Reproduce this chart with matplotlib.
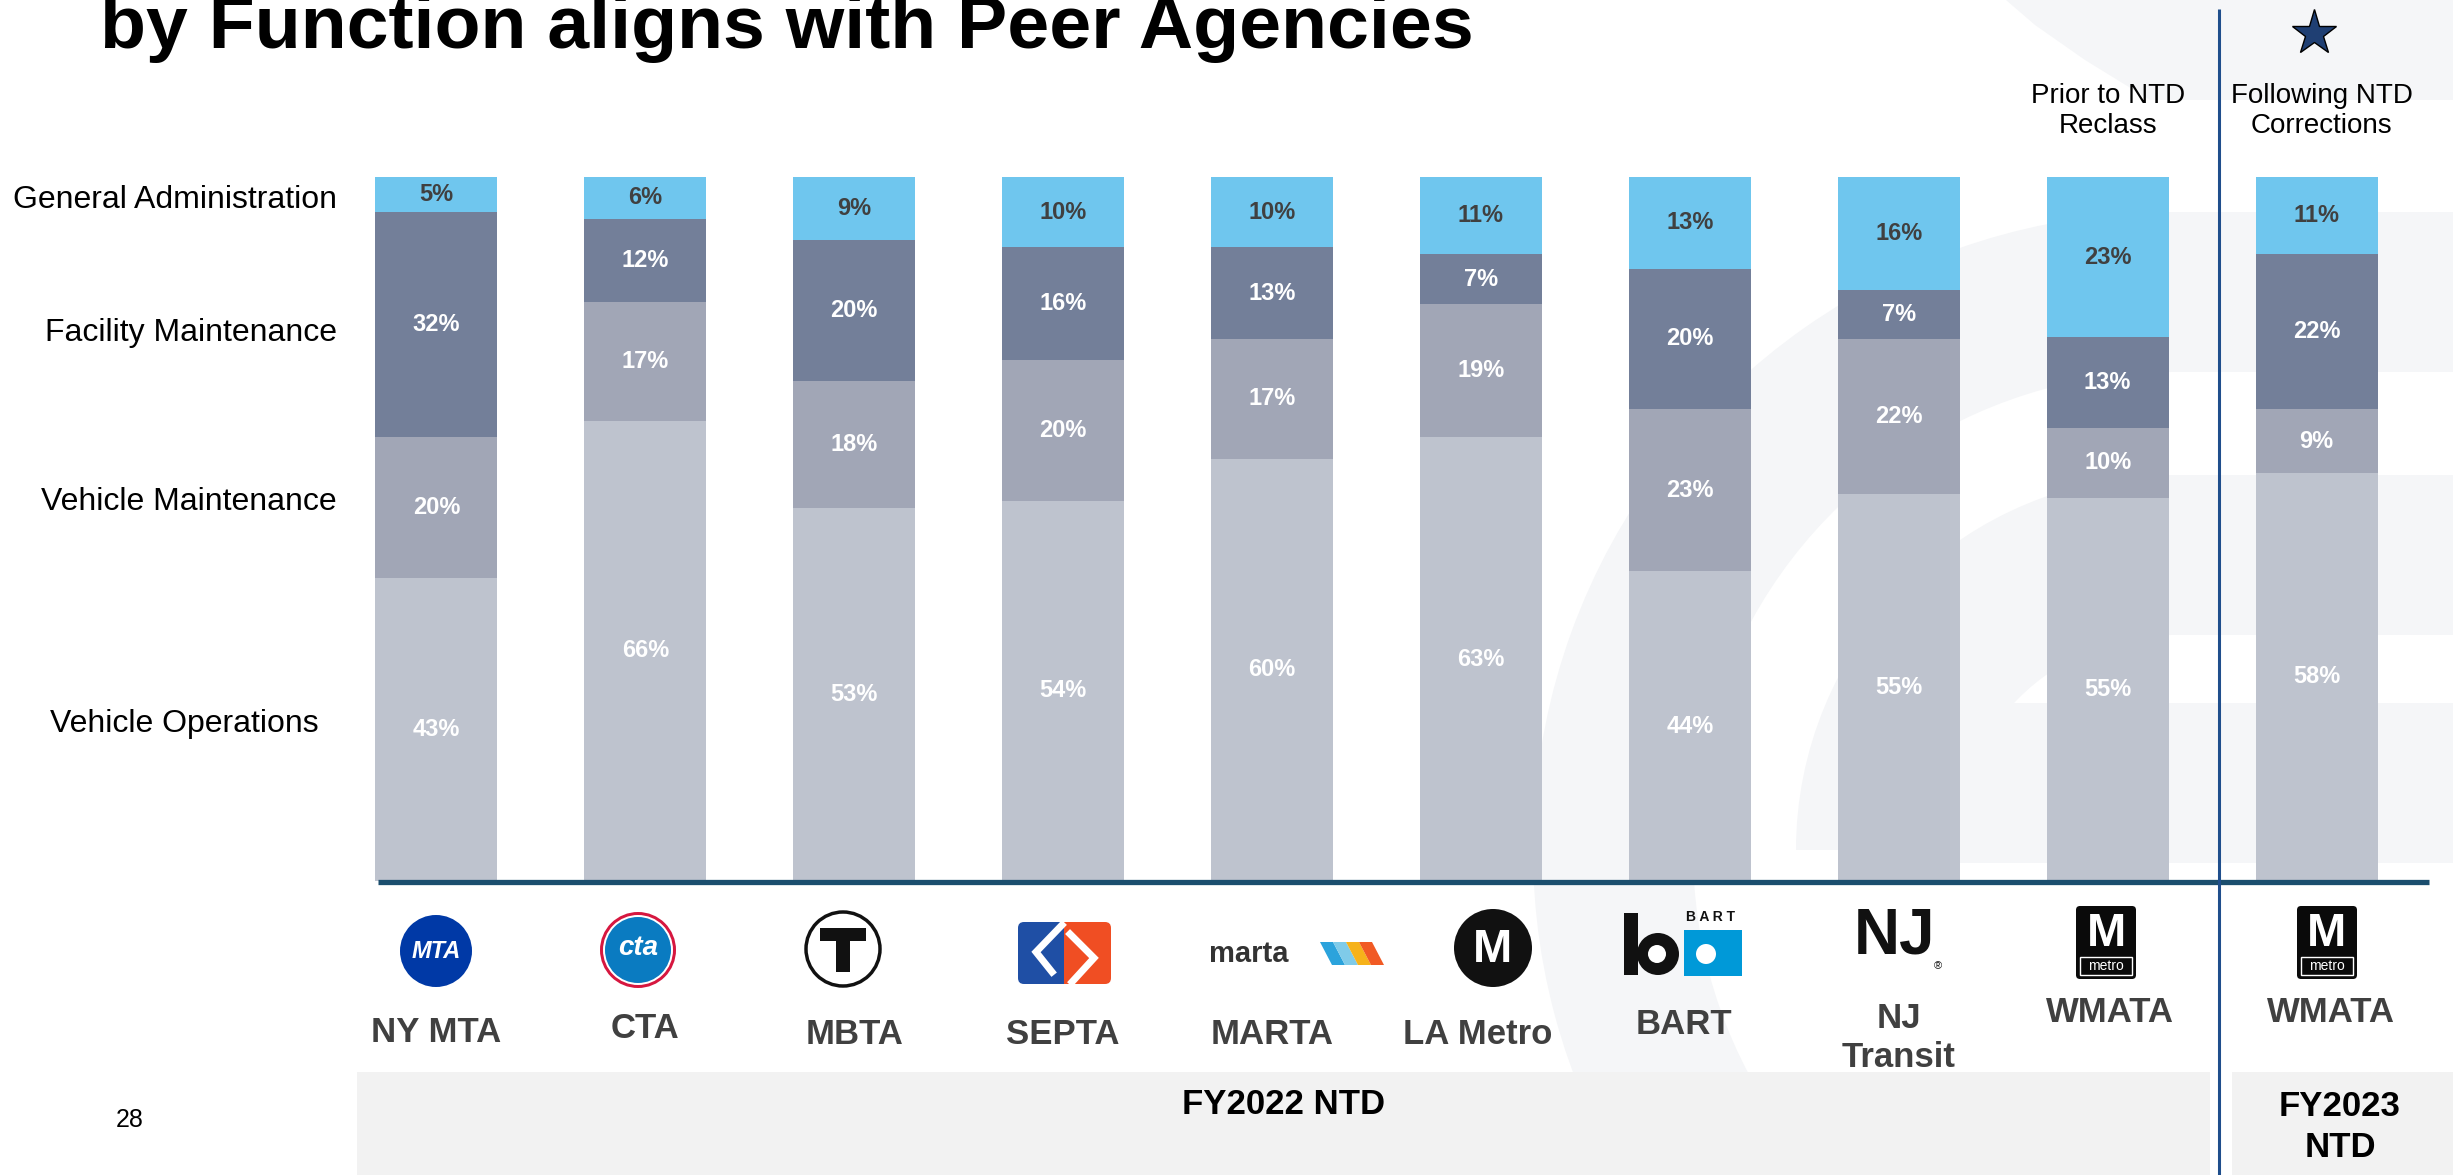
import matplotlib
matplotlib.use('Agg')
import matplotlib.pyplot as plt
import matplotlib.transforms as mtransforms
import numpy as np
from matplotlib import font_manager
from matplotlib.patches import Rectangle, Circle, FancyBboxPatch, Polygon, Wedge

plt.rcParams['font.family'] = ['Liberation Sans', 'DejaVu Sans']

# ---------------- data ----------------
agencies = ['NY MTA', 'CTA', 'MBTA', 'SEPTA', 'MARTA', 'LA Metro', 'BART',
            'NJ\nTransit', 'WMATA', 'WMATA']
categories = ['Vehicle Operations', 'Vehicle Maintenance',
              'Facility Maintenance', 'General Administration']
vehicle_ops = [43, 66, 53, 54, 60, 63, 44, 55, 55, 58]
vehicle_maint = [20, 17, 18, 20, 17, 19, 23, 22, 10, 9]
facility_maint = [32, 12, 20, 16, 13, 7, 20, 7, 13, 22]
general_admin = [5, 6, 9, 10, 10, 11, 13, 16, 23, 11]
title = 'by Function aligns with Peer Agencies'
group_labels = ['FY2022 NTD', 'FY2023\nNTD']
wmata_notes = ['Prior to NTD\nReclass', 'Following NTD\nCorrections']

# ---------------- style ----------------
colors = ['#bec3ce', '#a1a6b6', '#737f99', '#6fc6ee']
label_colors = ['white', 'white', 'white', '#404040']
W, H = 2453, 1175

fig = plt.figure(figsize=(W / 100, H / 100), dpi=100, facecolor='white')

# background overlay (pixel coordinates, y downwards)
bg = fig.add_axes([0, 0, 1, 1], zorder=0)
bg.set_xlim(0, W); bg.set_ylim(H, 0); bg.axis('off')
deco = '#f5f6f8'
cx, cy = 2171, 850
bg.add_patch(Wedge((cx, cy), 638, 130, 270, width=160, fc=deco, ec='none'))
bg.add_patch(Wedge((cx, cy), 375, 180, 270, width=160, fc=deco, ec='none'))
for (x0, y0, w, h) in [(cx, 212, W - cx, 160), (cx, 475, W - cx, 160),
                       (1960, 703, W - 1960, 160)]:
    bg.add_patch(Rectangle((x0, y0), w, h, fc=deco, ec='none'))
bg.add_patch(Polygon([(2006, 0), (W, 0), (W, 100), (2150, 100), (2085, 60), (2035, 25)],
                     closed=True, fc=deco, ec='none'))
bg.add_patch(Rectangle((357, 1072), 2210 - 357, H - 1072, fc='#f2f2f2', ec='none'))
bg.add_patch(Rectangle((2232, 1072), W - 2232, H - 1072, fc='#f2f2f2', ec='none'))

# main chart axes
ax = fig.add_axes([332 / W, 1 - 881 / H, (2421 - 332) / W, (881 - 177) / H], zorder=1)
ax.patch.set_alpha(0)
ax.set_xlim(-0.5, 9.5)
ax.set_ylim(0, 100)
ax.axis('off')

raw = np.array([vehicle_ops, vehicle_maint, facility_maint, general_admin], dtype=float)
shares = raw / raw.sum(axis=0) * 100
x = np.arange(len(agencies))
bottom = np.zeros(len(agencies))
for k in range(4):
    ax.bar(x, shares[k], bottom=bottom, width=0.584, color=colors[k],
           edgecolor='none', linewidth=0)
    for i in range(len(agencies)):
        ax.text(x[i], bottom[i] + shares[k][i] / 2, f'{int(raw[k][i])}%',
                ha='center', va='center', fontsize=17, fontweight='bold',
                color=label_colors[k])
    bottom += shares[k]

# foreground overlay
fg = fig.add_axes([0, 0, 1, 1], zorder=2)
fg.patch.set_alpha(0)
fg.set_xlim(0, W); fg.set_ylim(H, 0); fg.axis('off')

fg.plot([378, 2429], [882, 882], color='#1b4e6e', lw=3.8, solid_capstyle='butt')
fg.plot([2219, 2219], [9, H], color='#1f4e8c', lw=2.2, solid_capstyle='butt')

# title (bold, partly cut by the top edge as in the slide)
avail = {f.name for f in font_manager.fontManager.ttflist}
tfam = ['Liberation Sans Narrow', 'Liberation Sans'] if 'Liberation Sans Narrow' in avail \
    else ['Liberation Sans']
ttl = fg.text(100, 48, title, ha='left', va='baseline', fontsize=64,
              fontweight='bold', color='black', family=tfam)
renderer = fig.canvas.get_renderer()
wpx = ttl.get_window_extent(renderer).width
ttl.set_fontsize(64 * 1373 / wpx)

# category labels on the left
cat_pos = [(337, 200), (337, 333), (337, 502), (319, 724)]
for name, (px, py) in zip(categories[::-1], cat_pos):
    fg.text(px, py, name, ha='right', va='center', fontsize=23, color='black')

# agency labels (x from bar positions)
trans = mtransforms.blended_transform_factory(ax.transData, fg.transData)
label_y = [1033, 1028, 1034, 1034, 1034, 1034, 1025, 1038, 1012, 1012]
label_dx = [0, 0, 0, 0, 0, -0.015, -0.03, 0, 0.01, 0.07]
for i, name in enumerate(agencies):
    fg.text(x[i] + label_dx[i], label_y[i], name, transform=trans, ha='center',
            va='center', fontsize=25, fontweight='bold', color='#404040',
            linespacing=1.2)

# WMATA notes
fg.text(x[8], 111, wmata_notes[0], transform=trans, ha='center', va='center',
        fontsize=20, color='black', linespacing=1.2)
fg.text(x[9] + 0.025, 111, wmata_notes[1], transform=trans, ha='center', va='center',
        fontsize=20, color='black', linespacing=1.2)
fg.plot([2314], [33], marker='*', ms=34, mfc='#1f3f73', mec='black', mew=1)

# group labels
fg.text(1284, 1104, group_labels[0], ha='center', va='center', fontsize=25,
        fontweight='bold', color='black')
fg.text(2340, 1127, group_labels[1], ha='center', va='center', fontsize=25,
        fontweight='bold', color='black', linespacing=1.3)
fg.text(130, 1120, '28', ha='center', va='center', fontsize=18, color='black')

# ---------------- simplified logos ----------------
# MTA
fg.add_patch(Circle((436, 951), 36, fc='#0039a6', ec='none'))
fg.text(436, 952, 'MTA', ha='center', va='center', fontsize=17, fontweight='bold',
        color='white', style='italic')
# CTA
fg.add_patch(Circle((638, 950), 38, fc='#d6173f', ec='none'))
fg.add_patch(Circle((638, 950), 35, fc='white', ec='none'))
fg.add_patch(Circle((638, 950), 33, fc='#0a7bc1', ec='none'))
fg.text(638, 948, 'cta', ha='center', va='center', fontsize=20, fontweight='bold',
        color='white', style='italic')
# MBTA
fg.add_patch(Circle((843, 949), 37, fc='white', ec='#111111', lw=2.5))
fg.add_patch(Rectangle((820, 928), 46, 13, fc='#111111', ec='none'))
fg.add_patch(Rectangle((836, 928), 14, 44, fc='#111111', ec='none'))
# SEPTA
fg.add_patch(FancyBboxPatch((1018, 922), 46, 62, boxstyle='round,pad=0,rounding_size=6',
                            fc='#1f4fa5', ec='none'))
fg.add_patch(FancyBboxPatch((1064, 922), 47, 62, boxstyle='round,pad=0,rounding_size=6',
                            fc='#f04e23', ec='none'))
fg.add_patch(Rectangle((1058, 922), 12, 62, fc='#1f4fa5', ec='none'))
fg.add_patch(Rectangle((1064, 922), 6, 62, fc='#f04e23', ec='none'))
fg.plot([1062, 1036, 1052], [925, 952, 972], color='white', lw=5, solid_joinstyle='miter')
fg.plot([1070, 1094, 1072], [934, 958, 982], color='white', lw=5, solid_joinstyle='miter')
# MARTA
fg.text(1209, 954, 'marta', ha='left', va='center', fontsize=21, fontweight='bold',
        color='#333333')
for j, c in enumerate(['#2ba3dc', '#7fcbe9', '#f6b21a', '#f15a24']):
    x0 = 1320 + j * 13
    fg.add_patch(Polygon([(x0, 942), (x0 + 13, 942), (x0 + 25, 965), (x0 + 12, 965)],
                         closed=True, fc=c, ec='none'))
# LA Metro
fg.add_patch(Circle((1493, 948), 39, fc='#111111', ec='none'))
fg.text(1493, 950, 'M', ha='center', va='center', fontsize=34, fontweight='bold',
        color='white')
# BART
fg.text(1686, 917, 'B A R T', ha='left', va='center', fontsize=10, fontweight='bold',
        color='#111111')
fg.add_patch(Rectangle((1624, 913), 14, 62, fc='#111111', ec='none'))
fg.add_patch(Circle((1658, 954), 21, fc='#111111', ec='none'))
fg.add_patch(Circle((1657, 954), 9, fc='white', ec='none'))
fg.add_patch(Rectangle((1684, 930), 58, 46, fc='#0099d8', ec='none'))
fg.add_patch(Circle((1706, 954), 10, fc='white', ec='none'))
# NJ Transit
fg.text(1895, 936, 'NJ', ha='center', va='center', fontsize=46, fontweight='bold',
        color='#111111')
fg.text(1938, 966, '®', ha='center', va='center', fontsize=8, color='#111111')
# WMATA x2
for wx in (2106, 2327):
    fg.add_patch(FancyBboxPatch((wx - 30, 906), 60, 73, boxstyle='round,pad=0,rounding_size=4',
                                fc='#0a0a0a', ec='none'))
    fg.text(wx, 934, 'M', ha='center', va='center', fontsize=34, fontweight='bold',
            color='white')
    fg.add_patch(Rectangle((wx - 26, 957), 52, 18, fc='none', ec='white', lw=1))
    fg.text(wx, 966, 'metro', ha='center', va='center', fontsize=10, color='white')

fig.savefig('out.png', dpi=100, facecolor='white')
